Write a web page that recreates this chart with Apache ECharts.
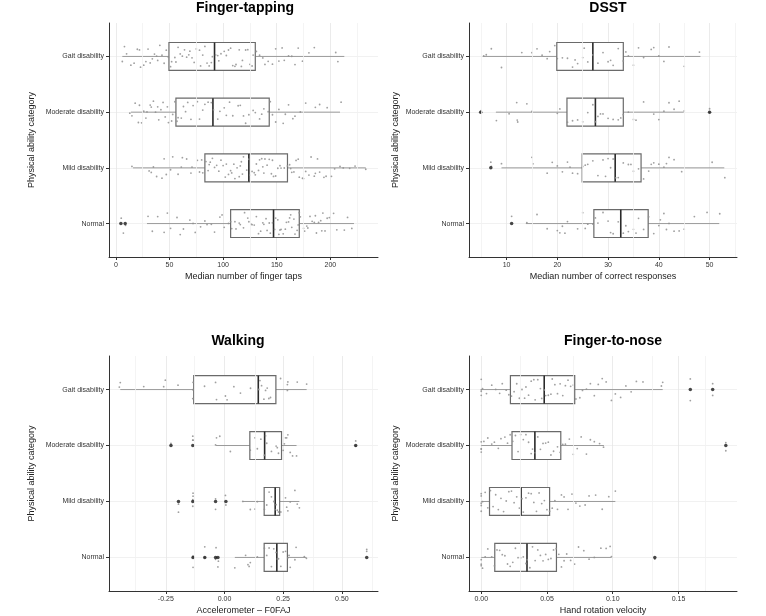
<!DOCTYPE html>
<html><head><meta charset="utf-8">
<script src="https://cdn.jsdelivr.net/npm/echarts@6/dist/echarts.min.js"></script>
<style>html,body{margin:0;padding:0;background:#fff}#c{width:766px;height:616px}</style>
</head><body><div id="c"></div><script>
// ---------- DATA ----------
const categories = ['Normal', 'Mild disability', 'Moderate disability', 'Gait disability'];
const panelTitles = ['Finger-tapping', 'DSST', 'Walking', 'Finger-to-nose'];
const xAxisNames = ['Median number of finger taps', 'Median number of correct responses', 'Accelerometer \u2013 F0FAJ', 'Hand rotation velocity'];
const yAxisName = 'Physical ability category';

// box stats per category (Normal, Mild, Moderate, Gait): [lower whisker, Q1, median, Q3, upper whisker]
const ftBoxes = [[29, 107, 147, 171, 222], [16, 83, 124, 160, 233], [14, 56, 90.5, 143, 209], [6, 49.5, 92, 130, 213]];
const dsBoxes = [[13.8, 27.2, 32.5, 37.9, 51.9], [9, 24.9, 31.4, 36.5, 52.9], [7.9, 21.9, 27.5, 33, 44.9], [5.3, 19.9, 27, 33, 48.2]];
const wkBoxes = [[0.044, 0.169, 0.223, 0.268, 0.349], [0.078, 0.169, 0.216, 0.235, 0.319], [-0.036, 0.108, 0.171, 0.243, 0.307], [-0.444, -0.131, 0.144, 0.219, 0.35]];
const fnBoxes = [[0, 0.0103, 0.0348, 0.0572, 0.099], [0, 0.0063, 0.0303, 0.052, 0.102], [0, 0.0234, 0.0408, 0.0605, 0.0933], [0, 0.0222, 0.0479, 0.0711, 0.138]];

// outliers per category
const ftOutliers = [[4.7, 8.7], [], [], []];
const dsOutliers = [[11], [6.9], [4.9, 50], []];
const wkOutliers = [[-0.134, -0.084, -0.038, -0.028, 0.606], [-0.196, -0.135, -0.038, 0.006], [-0.228, -0.135, 0.559], []];
const fnOutliers = [[0.132], [], [0.186], [0.159, 0.176]];

// individual observations per category
const ftPoints = [
  [5, 7, 9, 30, 34, 39, 45, 48, 51, 57, 60, 63, 69, 72, 74, 79, 83, 85, 89, 92, 97, 99, 101, 105, 107, 108, 111, 115, 116, 119, 120, 123, 124, 127, 129, 131, 133, 135, 137, 140, 141, 143, 144, 146, 148, 151, 152, 154, 156, 158, 159, 161, 163, 164, 167, 169, 170, 172, 175, 176, 178, 181, 183, 185, 187, 189, 191, 193, 195, 199, 203, 206, 213, 216, 220, 112, 126, 138, 149, 153, 162, 166, 171, 179, 186, 192, 197],
  [15, 31, 33, 35, 38, 43, 45, 47, 51, 53, 58, 61, 62, 66, 70, 71, 76, 78, 80, 81, 84, 86, 88, 90, 92, 94, 96, 98, 100, 102, 103, 105, 108, 110, 111, 113, 115, 116, 118, 119, 122, 124, 125, 127, 129, 130, 133, 134, 136, 138, 139, 141, 143, 145, 146, 149, 151, 153, 154, 157, 160, 162, 164, 166, 168, 170, 171, 174, 177, 180, 182, 186, 188, 190, 194, 196, 201, 204, 209, 212, 218, 223, 233, 87, 107, 117, 131, 137, 147, 163, 175, 185],
  [13, 15, 18, 21, 22, 24, 26, 28, 29, 32, 33, 35, 37, 39, 40, 42, 44, 46, 48, 49, 52, 53, 55, 57, 58, 61, 63, 65, 67, 70, 72, 76, 78, 81, 83, 86, 89, 91, 95, 97, 101, 103, 106, 109, 114, 116, 119, 121, 124, 128, 130, 134, 136, 138, 142, 144, 146, 149, 152, 156, 158, 161, 165, 167, 172, 177, 186, 190, 197, 210],
  [6, 8, 10, 14, 17, 20, 22, 23, 26, 28, 30, 32, 34, 36, 38, 39, 41, 43, 45, 47, 49, 51, 52, 55, 56, 58, 60, 62, 64, 66, 68, 69, 71, 73, 75, 78, 79, 81, 83, 85, 87, 89, 90, 93, 95, 96, 98, 101, 103, 105, 107, 109, 111, 112, 115, 117, 118, 121, 123, 125, 127, 128, 131, 134, 137, 139, 142, 146, 149, 152, 155, 157, 161, 164, 167, 170, 174, 180, 185, 205, 207]
];
const dsPoints = [
  [11, 14, 16, 18, 20, 20.5, 21, 21.5, 22, 24, 25, 25.5, 26, 27, 27.5, 28, 29, 30, 30.5, 31, 32, 33, 33.5, 34, 35, 35.5, 36, 37, 38, 39, 40, 40.3, 41, 41.5, 42, 43, 44, 45, 47, 49.5, 52],
  [6.9, 7, 9, 15, 15.2, 18, 19, 20, 21, 22, 22.5, 23, 24, 25, 25.5, 26, 27, 28, 29, 29.5, 30, 30.5, 31, 31.5, 32, 33, 34, 34.5, 35, 36, 37, 38, 38.5, 39, 40, 41, 41.5, 42, 43, 44.5, 50.5, 53],
  [4.9, 5, 8, 10.5, 12, 12.1, 12.2, 14, 15, 20, 20.5, 22, 23, 24, 25, 26, 27, 27.5, 28, 28.5, 29, 30, 31, 32, 32.5, 33, 34, 35, 35.5, 37, 39, 40, 41, 42, 43, 44, 45, 50, 50],
  [5.5, 6, 7, 9, 13, 15, 16, 17, 18, 18.5, 19.5, 20, 21, 22, 23, 23.5, 24, 25, 25.3, 26, 27, 28, 29, 30, 30.5, 31, 32, 33, 33.5, 34, 35, 36, 37, 38.5, 39, 40, 41, 42, 45, 48]
];
const wkPoints = [
  [-0.134, -0.134, -0.134, -0.084, -0.084, -0.038, -0.036, -0.028, -0.026, 0.044, 0.09, 0.1, 0.105, 0.11, 0.14, 0.17, 0.18, 0.19, 0.2, 0.21, 0.22, 0.225, 0.23, 0.24, 0.25, 0.26, 0.27, 0.275, 0.28, 0.3, 0.305, 0.34, 0.349, 0.606, 0.606],
  [-0.196, -0.196, -0.135, -0.135, -0.134, -0.134, -0.038, -0.038, 0.004, 0.006, 0.078, 0.11, 0.13, 0.14, 0.17, 0.18, 0.19, 0.2, 0.21, 0.215, 0.22, 0.225, 0.23, 0.24, 0.26, 0.265, 0.27, 0.28, 0.3, 0.31, 0.319],
  [-0.228, -0.135, -0.135, -0.134, -0.038, -0.034, -0.02, 0.025, 0.11, 0.13, 0.14, 0.155, 0.17, 0.175, 0.18, 0.2, 0.22, 0.225, 0.23, 0.25, 0.255, 0.26, 0.265, 0.27, 0.28, 0.29, 0.307, 0.559, 0.559],
  [-0.448, -0.444, -0.344, -0.259, -0.252, -0.198, -0.135, -0.135, -0.134, -0.085, -0.038, -0.034, 0.004, 0.011, 0.04, 0.068, 0.111, 0.146, 0.151, 0.158, 0.168, 0.175, 0.182, 0.189, 0.196, 0.239, 0.268, 0.268, 0.27, 0.31, 0.35]
];
const fnPoints = [
  [0, 0, 0, 0.001, 0.003, 0.005, 0.008, 0.01, 0.012, 0.014, 0.016, 0.018, 0.02, 0.022, 0.024, 0.026, 0.028, 0.03, 0.032, 0.034, 0.035, 0.037, 0.039, 0.041, 0.043, 0.045, 0.047, 0.049, 0.051, 0.053, 0.055, 0.057, 0.059, 0.061, 0.063, 0.065, 0.068, 0.071, 0.074, 0.078, 0.082, 0.086, 0.091, 0.095, 0.098, 0.099, 0.132],
  [0, 0, 0, 0, 0, 0.001, 0.003, 0.005, 0.007, 0.009, 0.011, 0.013, 0.015, 0.017, 0.019, 0.021, 0.023, 0.025, 0.027, 0.029, 0.031, 0.032, 0.034, 0.036, 0.038, 0.04, 0.042, 0.044, 0.046, 0.048, 0.05, 0.052, 0.054, 0.056, 0.058, 0.061, 0.063, 0.066, 0.069, 0.072, 0.075, 0.079, 0.082, 0.087, 0.092, 0.097, 0.102],
  [0, 0, 0, 0, 0.002, 0.005, 0.008, 0.01, 0.013, 0.015, 0.018, 0.02, 0.022, 0.024, 0.026, 0.028, 0.03, 0.032, 0.034, 0.036, 0.038, 0.039, 0.041, 0.043, 0.045, 0.047, 0.049, 0.051, 0.053, 0.055, 0.058, 0.06, 0.062, 0.064, 0.067, 0.07, 0.073, 0.076, 0.08, 0.083, 0.086, 0.09, 0.093, 0.186, 0.186],
  [0, 0, 0, 0, 0.001, 0.004, 0.008, 0.011, 0.014, 0.016, 0.019, 0.021, 0.023, 0.025, 0.027, 0.029, 0.031, 0.033, 0.034, 0.036, 0.038, 0.04, 0.041, 0.043, 0.045, 0.046, 0.048, 0.049, 0.051, 0.053, 0.054, 0.056, 0.058, 0.06, 0.062, 0.064, 0.066, 0.068, 0.07, 0.072, 0.075, 0.077, 0.08, 0.083, 0.086, 0.089, 0.092, 0.095, 0.099, 0.102, 0.106, 0.11, 0.114, 0.118, 0.123, 0.137, 0.138, 0.159, 0.159, 0.176, 0.176]
];

// axis ticks
const ftTicks = [0, 50, 100, 150, 200], ftMinor = [25, 75, 125, 175, 225];
const dsTicks = [10, 20, 30, 40, 50], dsMinor = [5, 15, 25, 35, 45, 55];
const wkTicks = [-0.25, 0, 0.25, 0.5], wkMinor = [-0.375, -0.125, 0.125, 0.375, 0.625];
const fnTicks = [0, 0.05, 0.1, 0.15], fnMinor = [0.025, 0.075, 0.125, 0.175];

// ---------- LAYOUT / STYLE ----------
const FONT = 'Liberation Sans';
const panels = [
  {boxes: ftBoxes, out: ftOutliers, pts: ftPoints, ticks: ftTicks, minor: ftMinor, min: -6.4, max: 244.4, dec: 0,
   grid: {left: 109, top: 23, width: 269, height: 234}, title: [245, 1], yGap: 73},
  {boxes: dsBoxes, out: dsOutliers, pts: dsPoints, ticks: dsTicks, minor: dsMinor, min: 2.6, max: 55.4, dec: 0,
   grid: {left: 469, top: 23, width: 268, height: 234}, title: [608, 1], yGap: 69},
  {boxes: wkBoxes, out: wkOutliers, pts: wkPoints, ticks: wkTicks, minor: wkMinor, min: -0.492, max: 0.654, dec: 2,
   grid: {left: 109, top: 356, width: 269, height: 235}, title: [238, 334], yGap: 73},
  {boxes: fnBoxes, out: fnOutliers, pts: fnPoints, ticks: fnTicks, minor: fnMinor, min: -0.0093, max: 0.1945, dec: 2,
   grid: {left: 469, top: 356, width: 268, height: 235}, title: [613, 334], yGap: 69}
];
const BOX_HALF = 0.25, JIT = 0.2;

// deterministic display jitter (vertical spread only; does not alter any value)
function jitterOffset(i, k) {
  const s = Math.sin((i + 1) * 78.233 + (k + 1) * 12.9898) * 43758.5453;
  return ((s - Math.floor(s)) - 0.5) * 2 * JIT;
}

const option = {
  animation: false,
  backgroundColor: '#fff',
  textStyle: {fontFamily: FONT},
  title: [], grid: [], xAxis: [], yAxis: [], series: []
};

panels.forEach((p, k) => {
  option.title.push({text: panelTitles[k], left: p.title[0], top: p.title[1], textAlign: 'center', padding: 0,
    textStyle: {fontFamily: FONT, fontSize: 14, fontWeight: 'bold', color: '#000'}});
  option.grid.push(Object.assign({containLabel: false}, p.grid));
  option.xAxis.push({
    type: 'value', gridIndex: k, min: p.min, max: p.max,
    name: xAxisNames[k], nameLocation: 'middle', nameGap: 15,
    nameTextStyle: {fontFamily: FONT, fontSize: 9, color: '#222'},
    axisLine: {show: true, onZero: false, lineStyle: {color: '#333', width: 1}},
    axisTick: {show: true, length: 3, customValues: p.ticks, lineStyle: {color: '#333'}},
    axisLabel: {customValues: p.ticks, fontSize: 7, color: '#333', margin: 5, fontFamily: FONT,
      formatter: v => Number(v).toFixed(p.dec)},
    splitLine: {show: true, lineStyle: {color: '#e6e6e6', width: 0.8}}
  });
  option.yAxis.push({
    type: 'value', gridIndex: k, min: 0.4, max: 4.6,
    name: yAxisName, nameLocation: 'middle', nameGap: p.yGap, nameRotate: 90,
    nameTextStyle: {fontFamily: FONT, fontSize: 9, color: '#222'},
    axisLine: {show: true, onZero: false, lineStyle: {color: '#333', width: 1}},
    axisTick: {show: true, length: 3, customValues: [1, 2, 3, 4], lineStyle: {color: '#333'}},
    axisLabel: {customValues: [1, 2, 3, 4], fontSize: 7, color: '#333', margin: 5, fontFamily: FONT,
      formatter: v => categories[Math.round(v) - 1] || ''},
    splitLine: {show: true, lineStyle: {color: '#eeeeee', width: 0.8}}
  });
  // minor vertical grid lines
  option.series.push({
    type: 'scatter', xAxisIndex: k, yAxisIndex: k, data: [], z: 1, silent: true,
    markLine: {silent: true, symbol: 'none', label: {show: false}, animation: false,
      lineStyle: {color: '#f1f1f1', width: 0.8, type: 'solid'},
      data: p.minor.map(v => ({xAxis: v}))}
  });
  // boxes
  option.series.push({
    type: 'custom', xAxisIndex: k, yAxisIndex: k, z: 2, silent: true,
    data: p.boxes.map((b, i) => [i + 1].concat(b)),
    encode: {x: [1, 2, 3, 4, 5], y: 0},
    renderItem: (params, api) => {
      const c = api.value(0);
      const lw = api.coord([api.value(1), c]);
      const q1 = api.coord([api.value(2), c]);
      const md = api.coord([api.value(3), c]);
      const q3 = api.coord([api.value(4), c]);
      const uw = api.coord([api.value(5), c]);
      const h = api.size([0, BOX_HALF])[1];
      return {type: 'group', children: [
        {type: 'line', shape: {x1: lw[0], y1: lw[1], x2: q1[0], y2: q1[1]}, style: {stroke: '#9a9a9a', lineWidth: 1}},
        {type: 'line', shape: {x1: q3[0], y1: q3[1], x2: uw[0], y2: uw[1]}, style: {stroke: '#9a9a9a', lineWidth: 1}},
        {type: 'rect', shape: {x: q1[0], y: q1[1] - h, width: q3[0] - q1[0], height: 2 * h},
          style: {fill: '#fff', stroke: '#6a6a6a', lineWidth: 1.2}},
        {type: 'line', shape: {x1: md[0], y1: md[1] - h, x2: md[0], y2: md[1] + h}, style: {stroke: '#2a2a2a', lineWidth: 1.6}}
      ]};
    }
  });
  // jittered observations
  const jit = [];
  p.pts.forEach((arr, ci) => arr.forEach((v, i) => jit.push([v, ci + 1 + jitterOffset(i, ci + 4 * k)])));
  option.series.push({
    type: 'scatter', xAxisIndex: k, yAxisIndex: k, z: 3, silent: true,
    symbolSize: 1.8, itemStyle: {color: '#8f8f8f', opacity: 0.85}, data: jit
  });
  // outliers
  const outs = [];
  p.out.forEach((arr, ci) => arr.forEach(v => outs.push([v, ci + 1])));
  option.series.push({
    type: 'scatter', xAxisIndex: k, yAxisIndex: k, z: 4, silent: true,
    symbolSize: 3.5, itemStyle: {color: '#1a1a1a'}, data: outs
  });
});

const chart = echarts.init(document.getElementById('c'), null, {renderer: 'canvas'});
chart.setOption(option);
</script></body></html>
